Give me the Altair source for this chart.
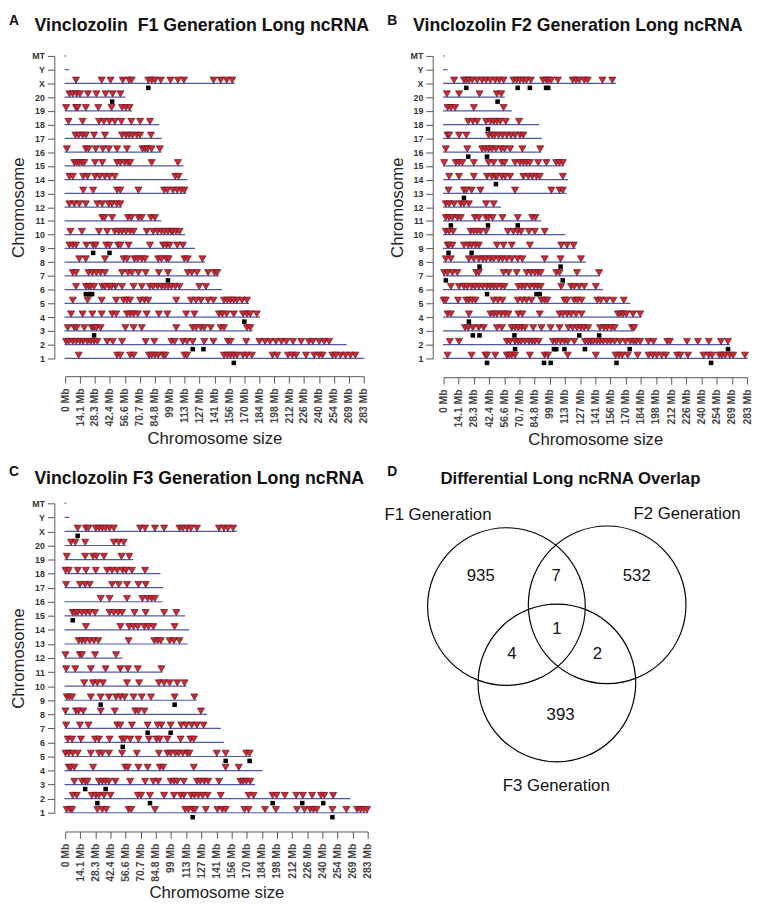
import altair as alt
import pandas as pd

# ---------------- data ----------------
CHR_ORDER = ["MT", "Y", "X", "20", "19", "18", "17", "16", "15", "14", "13", "12",
             "11", "10", "9", "8", "7", "6", "5", "4", "3", "2", "1"]
CHR_LEN = [0.4, 3.3, 160, 56.5, 63, 88.5, 91, 90.5, 111.5, 115.5, 114, 53,
           90.5, 113, 122.5, 132, 145, 148, 173.5, 184, 177, 266, 282.76]
X_MAX = 282.76
X_TICK_LABELS = ["0 Mb", "14.1 Mb", "28.3 Mb", "42.4 Mb", "56.6 Mb", "70.7 Mb", "84.8 Mb",
                 "99 Mb", "113 Mb", "127 Mb", "141 Mb", "156 Mb", "170 Mb", "184 Mb",
                 "198 Mb", "212 Mb", "226 Mb", "240 Mb", "254 Mb", "269 Mb", "283 Mb"]

# lncRNA positions (Mb) per chromosome, F1 generation
F1_TRI = {
    "X": [10.3, 34.6, 43, 54.5, 60.5, 63, 78.8, 82, 85, 90.6, 99.7, 106.8, 112.5, 140.5, 147.3, 153, 158.3],
    "20": [4, 7.2, 11, 14, 21.5, 29.6, 38.3, 45, 52.3],
    "19": [0.9, 10.3, 11.8, 19.6, 31.4, 43.9, 53.9, 57.5, 61],
    "18": [3.1, 16.5, 32.1, 36.7, 42, 47, 53.2, 62.6, 71, 80.3],
    "17": [9.7, 12.8, 16.5, 19.6, 27.4, 37.7, 53.9, 57.6, 60.7, 63.8, 67.9, 71, 81.3],
    "16": [1.6, 19.6, 22.1, 29, 35.8, 41.4, 49.2, 58.5, 73.2, 75.7, 78.1, 81.9, 89.7],
    "15": [8.7, 10.9, 13.4, 15.9, 18.1, 28.3, 35.2, 49.2, 52.3, 56.4, 59.5, 61.6, 81.9, 106.8],
    "14": [4, 7.2, 17.1, 21.2, 28.3, 32.7, 37.7, 42, 47, 104.3, 107.4],
    "13": [17.1, 26.5, 49.2, 52.3, 69.4, 93.7, 96.8, 102.1, 106.2, 109.9, 113],
    "12": [4, 8.7, 13.4, 19.6, 30.5, 35, 41.2, 44.3, 49, 52.3],
    "11": [35.2, 37.4, 44.5, 59.5, 62.6, 69.4, 72.5, 81.3, 85],
    "10": [5, 15.9, 32, 39.8, 47, 50.7, 53.9, 57.6, 61.6, 64.8, 77.2, 83.4, 87.5, 91.2, 94.3, 97.4, 100.6, 102, 105.2, 108.3],
    "9": [4, 7.2, 10.3, 20.2, 26.5, 29, 38.9, 42, 50.1, 52.3, 60.1, 80.3, 92.8, 95.9, 99, 106.2, 111.5],
    "8": [13.4, 19.6, 37.7, 55.4, 58.6, 65.7, 68.8, 72.6, 75.7, 88.1, 91.2, 95.9, 98, 113, 116.1, 130],
    "7": [7.2, 10.3, 22.1, 25.8, 29.6, 33.6, 37.7, 53.9, 59.5, 63.2, 69.4, 76.3, 88.7, 97.4, 116.1, 119.9, 124.8, 135.4, 141.5, 144],
    "6": [10.3, 19.6, 22.1, 24.3, 27.4, 35.2, 37.7, 41.4, 43.9, 47.6, 53.9, 64.8, 72.6, 80.3, 83.4, 87.5, 91.2, 94.3, 97.4, 100.6, 104.3, 108.3, 127, 133.3],
    "5": [7.2, 21.2, 34.6, 48.3, 55.4, 58.6, 61.6, 71, 75.1, 78.8, 105.2, 119.2, 123.9, 128.6, 135.4, 140.4, 150.4, 153.5, 156.6, 159.7, 162.8, 167.5, 172.2],
    "4": [5.6, 16.5, 25.8, 34.6, 44.5, 48.3, 58.5, 61.6, 64.8, 68.8, 77.2, 88.7, 96.8, 114.6, 122.4, 145.7, 148.8, 152.9, 159.7, 168.4, 172.2, 175.3, 181.5],
    "3": [2.5, 8.7, 10.9, 18.1, 25.2, 27.4, 29.6, 33.6, 57, 64.8, 72.6, 105.2, 120.8, 123.9, 128.6, 131.7, 137.9, 147.3, 150.4, 172.2, 175.3],
    "2": [0.9, 3.4, 7.2, 10.3, 14, 17.1, 21.2, 24.3, 27.4, 30.5, 39.8, 45.1, 53.9, 76.3, 84.4, 100.6, 103.7, 111.5, 115.5, 120.8, 131.7, 140.4, 154.1, 156.6, 171.5, 184, 189.3, 194, 199.6, 204.9, 209.5, 215.8, 223.5, 230.7, 234.5, 240.7, 245.4, 250],
    "1": [12.8, 49.2, 52.3, 61.6, 64.8, 79.4, 81.9, 85, 88.1, 92.8, 95, 113, 115.5, 150.4, 153.5, 156.6, 159.7, 162.8, 168.4, 172.2, 176.8, 196.4, 200.8, 211, 215.1, 218.8, 228.1, 235.9, 240.6, 243.7, 253.1, 256.2, 260.9, 265.5, 270.2, 274.8],
}
F1_SQ = {"X": [78.8], "20": [44.5], "9": [26.5, 42], "7": [97.4], "6": [19.6, 21.5, 23.5, 25.5],
         "4": [169.7], "3": [27.4], "2": [120.8, 131], "1": [159.7]}

# F2 generation
F2_TRI = {
    "X": [9.8, 19, 21.2, 23.6, 26.7, 31.3, 35.9, 39.6, 43.6, 48.2, 51.9, 55.9, 65.1, 68.1, 71.2, 74.3, 77.3, 81.3, 92.7, 95.8, 97.9, 100.4, 106.5, 120.3, 123.4, 126.4, 131.1, 134.2, 148, 157.2],
    "20": [3.1, 14.4, 33.5, 49.7, 53.7],
    "19": [3.7, 6.8, 10.7, 28.2, 55.9],
    "18": [23, 27.3, 31.3, 39.6, 43.6, 46.7, 49.7, 52.8, 58, 70.3],
    "17": [3.7, 5.2, 14.4, 21.2, 42, 45.1, 47.6, 51.3, 54.9, 58.9, 62.9, 66.6, 71.2, 74.3],
    "16": [2.1, 22.1, 35.9, 39, 42, 45.1, 48.8, 53.7, 56.8, 62, 73.4, 90],
    "15": [0.6, 11.4, 14.4, 17.5, 28.2, 42, 46.7, 54.3, 56.8, 66.6, 71.2, 74.3, 77.3, 80.4, 88.1, 95.8, 105, 108, 111.1],
    "14": [5.2, 14.4, 28.2, 40.5, 45.1, 48.2, 49.7, 54.3, 57.4, 62, 74.3, 78.9, 82.6, 86.6, 89.6, 111.1],
    "13": [4.6, 19, 21.2, 26.1, 34.4, 66.6, 100.4, 108, 111.1],
    "12": [2.1, 5.2, 9.8, 16, 19, 23.6, 39.6, 46.7],
    "11": [2.1, 5.2, 8.3, 12.9, 16, 29.2, 32.9, 39.6, 42, 45.7, 54.9, 69.1, 82.6, 85.6],
    "10": [2.1, 5.2, 8.9, 25.2, 28.2, 31.3, 34.4, 39.6, 59.9, 65.1, 69.1, 72.2, 79.5, 85, 94.2],
    "9": [3.7, 5.2, 8.3, 19, 23, 26.1, 29.8, 32.9, 49.7, 55.9, 63.5, 80.4, 109.6, 115.1, 121.2],
    "8": [2.1, 6.8, 23.6, 28.2, 32.9, 36.5, 39.6, 43.6, 46.7, 51.3, 54.9, 58.9, 63.5, 69.1, 73.4, 94.2, 109, 128],
    "7": [0.6, 3.7, 8.3, 12.9, 30.4, 32.9, 55.9, 60.5, 68.1, 77.3, 81.3, 85, 88.1, 90.5, 105, 108, 124.3, 144.9],
    "6": [6.8, 14.4, 19, 22.1, 26.1, 29.2, 32.9, 36.5, 40.5, 43.6, 46.7, 49.7, 53.7, 56.8, 69.7, 72.8, 75.8, 80.4, 84.4, 87.5, 90.5, 109.6, 118.8, 121.8, 126.4, 131.1, 141.8],
    "5": [0, 2.1, 13.5, 21.2, 23.6, 26.7, 29.8, 46.7, 50.6, 54.9, 69.1, 73.4, 77.3, 81.9, 91.2, 94.2, 96.7, 112.6, 115.1, 121.8, 124.9, 128.6, 143.3, 146.4, 151.9, 158.1, 167.9],
    "4": [3.7, 6.8, 23.6, 43.6, 46.7, 49.7, 53.7, 57.4, 60.5, 69.7, 73.4, 89.6, 108, 111.1, 115.1, 118.8, 123.4, 128.6, 162.4, 164.8, 167.3, 170.4, 176.5, 183.2],
    "3": [20, 23, 27.3, 32.9, 37.4, 49.7, 54.3, 63.5, 66.6, 69.7, 72.8, 75.8, 83.5, 91.2, 99.8, 108, 116.3, 120.3, 124.3, 128, 131.1, 134.7, 145.8, 149.5, 152.5, 156.2, 159.3, 175.6, 177.7],
    "2": [5.8, 14.4, 58.9, 62, 66.6, 69.7, 72.2, 75.8, 79.5, 82.6, 85, 88.7, 101.9, 105, 109, 112.6, 115.7, 121.8, 131.7, 134.7, 137.2, 139.6, 142.7, 145.8, 148.8, 152.5, 155.6, 159.3, 164.2, 169.4, 174, 177, 179.5, 183.2, 190.9, 195.5, 208.4, 210.9, 226.8, 236.9, 247.1, 258.4, 265],
    "1": [3.7, 26.1, 39, 40.5, 48.2, 58.9, 61.1, 63.5, 66.6, 80.4, 94.2, 97.3, 115.7, 141.8, 160.2, 163.3, 166.4, 171.6, 180.8, 190.9, 194.9, 198.6, 203.2, 207.2, 217.6, 220.7, 227.7, 242.2, 247.1, 250.2, 256.9, 259.4, 262.4, 266.7, 269.8, 280.8],
}
F2_SQ = {"X": [21.2, 69, 80.4, 95.5, 97.5], "20": [50.3], "18": [41.4], "16": [23, 40.5], "14": [48.8],
         "13": [19], "11": [6.8, 41.4, 69.1], "9": [4.6, 26.1], "8": [33.5, 109], "7": [2.1, 111],
         "6": [40.5, 86.6, 89.5], "4": [23.6], "3": [27.3, 33.5, 66, 126.4, 144.9],
         "2": [66.6, 102.8, 105, 112.6, 131.7, 173.4, 265], "1": [40.5, 93.6, 99.8, 161.1, 249.2]}

# F3 generation
F3_TRI = {
    "X": [11.7, 19.4, 21.8, 28.6, 31.6, 34.7, 37.8, 41.5, 45.5, 70.1, 74.7, 83.9, 92.5, 106.9, 110, 114, 117.6, 123.2, 143.8, 148.4, 152.1, 157],
    "20": [5.5, 9.5, 18.7, 45.5, 50.1, 54.7],
    "19": [1.5, 18.7, 26.1, 29.2, 36.3, 52.6, 59.9],
    "18": [0.3, 3.4, 11.7, 19.4, 28.6, 39.3, 43.9, 48.6, 53.8, 56.9, 62.4, 74.7],
    "17": [0.9, 13.8, 18.7, 23, 43.9, 50.1, 57.8, 68.5, 75.3],
    "16": [33.2, 41.5, 57.8, 72.2, 77.1, 80.8, 83.9],
    "15": [7.1, 9.5, 11.7, 15.7, 19.4, 23, 27.9, 41.5, 45.5, 49.5, 53.2, 64.8, 75.3, 92.5, 103.9],
    "14": [19.4, 51.6, 59.9, 63.9, 67.9, 74.1, 77.8, 82.4, 102.3],
    "13": [12.6, 15.7, 18.7, 23, 27, 31, 59.3, 83.3, 86.4, 89.4, 97.7, 101.7, 106.9],
    "12": [0.3, 13.8, 15.7, 28, 47.6],
    "11": [0.9, 9.5, 24, 37.8, 51.6, 58.7, 67.9, 90],
    "10": [17.8, 26.1, 30.1, 35.3, 57.8, 69.1, 87.6, 92.5, 97.7, 104.8, 111.6],
    "9": [1.5, 4, 6.5, 24, 33.2, 40.9, 47.6, 51.6, 55.6, 63.9, 71.6, 80.2, 102.3, 120.8],
    "8": [0.3, 10.1, 12.6, 16.9, 33.2, 46.4, 65.5, 68.5, 74.1, 126.9],
    "7": [0.9, 13.8, 21.8, 48.6, 51.6, 62.4, 77.1, 86.4, 90, 98.6, 108.5, 113.1, 118.3, 123.2, 129.4],
    "6": [2.5, 6.5, 14.8, 28, 31.6, 41.5, 53.2, 55.6, 60.8, 68.5, 78.4, 85.4, 88.5, 95.6, 107.9, 117.1, 120.2],
    "5": [0.3, 3.4, 7.1, 11.7, 24, 31.6, 34.7, 40.9, 53.2, 67, 87.6, 95.6, 98.6, 103, 106, 110, 114, 116.2, 141.7, 150, 169.3, 172.4],
    "4": [3.4, 5.5, 8.6, 26.1, 56.2, 58.7, 68.5, 77.1, 88.5, 91.5, 120.2, 150, 162.3],
    "3": [8.6, 15.7, 18.7, 20.8, 31.6, 34.7, 37.8, 40.9, 47, 60.8, 74.7, 82.4, 87, 98.6, 101.7, 104.8, 110.9, 123.2, 126.3, 130, 133.7, 143.8, 163.8, 166.3, 169.3, 173],
    "2": [7.1, 10.8, 24.9, 28.6, 31.6, 36.3, 42.4, 67.9, 71, 79.3, 92.5, 101.7, 107.9, 110.9, 117.7, 120.8, 124.5, 128.5, 133.1, 145.4, 171.5, 176.1, 193.9, 197.6, 205.3, 216, 222.2, 230.8, 239.1, 242.2, 250.5],
    "1": [1.5, 4.6, 6.5, 30.1, 34.7, 38.4, 59.3, 61.8, 83.9, 112.2, 115.2, 119.2, 121.4, 131.5, 142.3, 146.9, 150, 167.5, 171.5, 186.8, 197, 216.7, 223.7, 229, 232, 235.1, 249.8, 262.8, 272.9, 276, 279.1, 282.2],
}
F3_SQ = {"X": [11.7], "15": [7.1], "9": [33.2, 102.3], "7": [77.1, 98.6], "6": [53.8], "5": [150, 172.4],
         "3": [18.7, 37.8], "2": [30.1, 79.3, 193.9, 221.6, 241.2], "1": [119.2, 249.8]}

# Venn counts
VENN_LABELS = ["935", "7", "532", "1", "4", "2", "393"]
SET_NAMES = ["F1 Generation", "F2 Generation", "F3 Generation"]

# ---------------- styling / layout constants ----------------
RED = "#cc2a38"
DARK = "#5e141c"
BLUE = "#4c58a8"
AXIS_GRAY = "#555555"
SANS = "Liberation Sans"

STEP = X_MAX / 20
TICK_VALS = [STEP * k for k in range(21)]
LABEL_EXPR = "[" + ",".join("'%s'" % s for s in X_TICK_LABELS) + "][round(datum.value / %.4f)]" % STEP


def to_df(d):
    rows = [(c, p) for c, ps in d.items() for p in ps]
    return pd.DataFrame(rows, columns=["chr", "pos"])


def chrom_panel(tri, sq, letter, title, w, h, xoff, letter_y, title_y, title_axis_y):
    xs = alt.Scale(domain=[0, X_MAX], nice=False, zero=False)
    x_axis = alt.Axis(values=TICK_VALS, labelExpr=LABEL_EXPR, labelAngle=-90, labelFont=SANS,
                      labelFontWeight="bold", labelFontSize=10.5, labelColor="#444444",
                      labelOverlap=False, labelFlush=False, labelPadding=5,
                      tickSize=7, tickColor=AXIS_GRAY, domainColor=AXIS_GRAY, offset=xoff,
                      grid=False, title="Chromosome size", titleFont=SANS, titleFontSize=17,
                      titleFontWeight="normal", titleColor="#222222", titleY=title_axis_y,
                      titleBaseline="middle")
    y_axis = alt.Axis(title="Chromosome", titleFont=SANS, titleFontSize=17, titleFontWeight="normal",
                      titleColor="#222222", titleX=-36, titleBaseline="middle", labelFont=SANS,
                      labelFontWeight="bold", labelFontSize=9, labelColor="#333333", labelPadding=3,
                      tickSize=7, tickColor=AXIS_GRAY, domainColor=AXIS_GRAY, offset=11, grid=False)
    ys = alt.Scale(domain=CHR_ORDER, type="point", padding=0)
    Y = alt.Y("chr:N", sort=CHR_ORDER, scale=ys, axis=y_axis)

    lines = pd.DataFrame({"chr": CHR_ORDER, "start": [0.0] * len(CHR_ORDER), "end": CHR_LEN})
    rules = alt.Chart(lines).mark_rule(color=BLUE, strokeWidth=1.2, strokeCap="square").encode(
        x=alt.X("start:Q", scale=xs, axis=x_axis), x2="end:Q", y=Y)
    squares = alt.Chart(to_df(sq)).mark_square(color="black", size=21, yOffset=4.5, opacity=1).encode(
        x=alt.X("pos:Q", scale=xs, axis=x_axis), y=Y)
    tris = alt.Chart(to_df(tri)).mark_point(shape="triangle-down", filled=True, fill=RED, stroke=DARK,
                                            strokeWidth=0.7, size=52, yOffset=-3.3, opacity=1).encode(
        x=alt.X("pos:Q", scale=xs, axis=x_axis), y=Y)
    one = pd.DataFrame({"t": [0]})
    let = alt.Chart(one).mark_text(text=letter, font=SANS, fontSize=14, fontWeight="bold", color="#111111",
                                   align="center", baseline="top").encode(
        x=alt.value(-52), y=alt.value(letter_y))
    ttl = alt.Chart(one).mark_text(text=title, font=SANS, fontSize=18, fontWeight="bold", color="#111111",
                                   align="left", baseline="top").encode(
        x=alt.value(-31), y=alt.value(title_y))
    return alt.layer(rules, squares, tris, let, ttl).properties(width=w, height=h)


A = chrom_panel(F1_TRI, F1_SQ, "A", "Vinclozolin\u00a0 F1 Generation Long ncRNA", 303, 307, 18, -42, -39, 63)
B = chrom_panel(F2_TRI, F2_SQ, "B", "Vinclozolin F2 Generation Long ncRNA", 308, 307, 19, -42, -39, 63)
C = chrom_panel(F3_TRI, F3_SQ, "C", "Vinclozolin F3 Generation Long ncRNA", 307, 314, 19, -39, -34, 62)

# ---------------- Venn (panel D), drawn in panel pixel units ----------------
DX0, DW = 444, 305
DY0, DH = 504, 300
XD = alt.Scale(domain=[DX0, DX0 + DW], nice=False, zero=False)
YD = alt.Scale(domain=[DY0, DY0 + DH], nice=False, zero=False, reverse=True)
CIRCLE_POS = {"x": [507.8, 610, 559], "y": [608.8, 607, 686.3]}
COUNT_POS = {"x": [481.7, 558.3, 640, 559, 513.3, 600, 562.7],
             "y": [578.3, 578.3, 578.3, 631.7, 656.7, 656.7, 719.3]}
NAME_POS = {"x": [438.3, 691, 558.3], "y": [516, 514.7, 790.5]}

circ_df = pd.DataFrame(CIRCLE_POS)
circles = alt.Chart(circ_df).mark_point(shape="circle", filled=False, stroke="black", strokeWidth=1.2,
                                        size=160 * 160, opacity=1).encode(
    x=alt.X("x:Q", scale=XD, axis=None), y=alt.Y("y:Q", scale=YD, axis=None))
cnt_df = pd.DataFrame({"label": VENN_LABELS, **COUNT_POS})
counts = alt.Chart(cnt_df).mark_text(font=SANS, fontSize=17, color="#111111", baseline="middle").encode(
    x=alt.X("x:Q", scale=XD, axis=None), y=alt.Y("y:Q", scale=YD, axis=None), text="label:N")
nm_df = pd.DataFrame({"label": SET_NAMES, **NAME_POS})
names = alt.Chart(nm_df).mark_text(font=SANS, fontSize=17, color="#111111", baseline="middle").encode(
    x=alt.X("x:Q", scale=XD, axis=None), y=alt.Y("y:Q", scale=YD, axis=None), text="label:N")
hd_df = pd.DataFrame({"label": ["D", "Differential Long ncRNA Overlap"], "x": [392, 572.7], "y": [465, 471],
                      "fs": [14, 17]})
heads = alt.Chart(hd_df).mark_text(font=SANS, fontWeight="bold", color="#111111", baseline="top").encode(
    x=alt.X("x:Q", scale=XD, axis=None), y=alt.Y("y:Q", scale=YD, axis=None), text="label:N",
    size=alt.Size("fs:Q", scale=None, legend=None))
D = alt.layer(circles, counts, names, heads).properties(width=DW, height=DH)

chart = alt.concat(
    A, B, C, D, columns=2, bounds="flush", align="each",
    spacing={"row": 147, "column": 77},
).properties(padding=0).configure_view(stroke=None)

chart.save("out.html", embed_options={"renderer": "svg", "actions": False})
